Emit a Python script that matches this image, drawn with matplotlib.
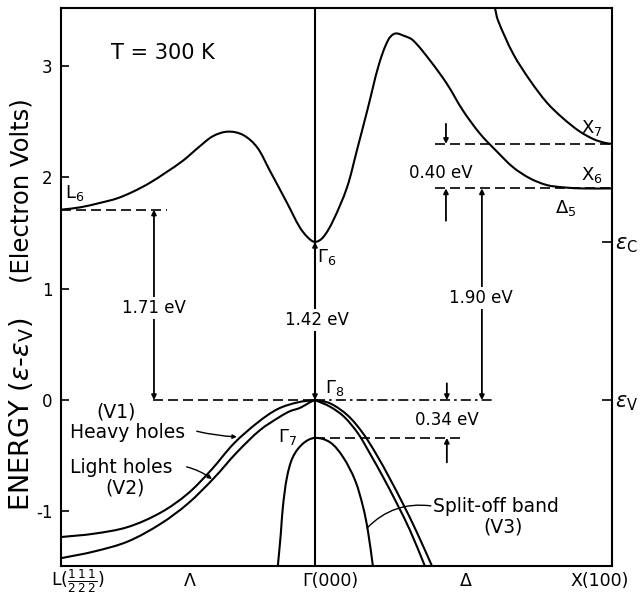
import numpy as np
import matplotlib
matplotlib.use("Agg")
import matplotlib.pyplot as plt
from matplotlib.path import Path
from matplotlib.patches import PathPatch

plt.rcParams["font.family"] = ["DejaVu Sans"]
plt.rcParams["axes.unicode_minus"] = False

# Path coordinate along L -> Γ -> X (units of 2π/a)
K_L, K_G, K_X = -0.855, 0.0, 1.0

# Band-edge energies (eV, relative to the valence-band top)
E_L6, E_G6, E_X6, E_X7, E_G7 = 1.71, 1.42, 1.90, 2.30, -0.34

# Lowest conduction band
cb_k = [-0.853, -0.791, -0.724, -0.667, -0.613, -0.556, -0.498, -0.444, -0.387,
        -0.343, -0.293, -0.242, -0.195, -0.152, -0.094, -0.051, -0.024, 0.0,
        0.027, 0.061, 0.108, 0.141, 0.178, 0.215, 0.246, 0.269, 0.300, 0.330,
        0.387, 0.444, 0.498, 0.556, 0.613, 0.667, 0.724, 0.781, 0.835, 0.900, 1.0]
cb_e = [1.71, 1.73, 1.77, 1.81, 1.87, 1.95, 2.05, 2.15, 2.28,
        2.37, 2.41, 2.38, 2.27, 2.06, 1.77, 1.55, 1.46, 1.42,
        1.46, 1.61, 1.91, 2.24, 2.62, 3.01, 3.23, 3.29, 3.27, 3.23,
        3.05, 2.84, 2.60, 2.39, 2.23, 2.09, 1.99, 1.93, 1.91, 1.90, 1.90]

# Second conduction band near X (X7)
x7_k = [0.606, 0.616, 0.667, 0.724, 0.781, 0.835, 0.892, 0.940, 0.975, 1.0]
x7_e = [3.52, 3.41, 3.11, 2.87, 2.67, 2.53, 2.41, 2.34, 2.31, 2.30]

# Heavy-hole band (V1)
hh_k = [-0.855, -0.744, -0.630, -0.519, -0.428, -0.350, -0.273, -0.192, -0.125,
        -0.057, 0.0, 0.051, 0.111, 0.162, 0.205, 0.249, 0.296, 0.340, 0.394]
hh_e = [-1.23, -1.20, -1.14, -1.01, -0.84, -0.63, -0.39, -0.20, -0.08,
        -0.02, 0.0, -0.03, -0.14, -0.30, -0.48, -0.69, -0.93, -1.17, -1.49]

# Light-hole band (V2)
lh_k = [-0.855, -0.744, -0.630, -0.519, -0.428, -0.340, -0.263, -0.185, -0.118,
        -0.084, -0.050, -0.017, 0.0, 0.051, 0.098, 0.145, 0.185, 0.229, 0.276,
        0.320, 0.370]
lh_e = [-1.42, -1.36, -1.27, -1.11, -0.93, -0.70, -0.47, -0.27, -0.15,
        -0.10, -0.07, -0.02, 0.0, -0.06, -0.15, -0.30, -0.48, -0.69, -0.93,
        -1.17, -1.49]

# Split-off band (V3)
so_k = [-0.125, -0.115, -0.108, -0.094, -0.074, -0.040, 0.0, 0.051, 0.094,
        0.135, 0.162, 0.178, 0.195]
so_e = [-1.49, -1.20, -0.96, -0.69, -0.51, -0.39, -0.34, -0.38, -0.51,
        -0.72, -0.96, -1.17, -1.49]

y_ticks = [-1, 0, 1, 2, 3]
x_label_pos = [-0.798, -0.421, 0.051, 0.508, 0.960]
x_labels = [r"L$(\frac{1}{2}\frac{1}{2}\frac{1}{2})$", "Λ", "Γ(000)", "Δ", "X(100)"]

fig = plt.figure(figsize=(6.41, 5.98), dpi=100)
ax = fig.add_axes([61 / 641, 1 - 566 / 598, 551 / 641, 558 / 598])
ax.set_xlim(K_L, K_X)
ax.set_ylim(-1.49, 3.52)

LW = 1.5
for s in ax.spines.values():
    s.set_linewidth(LW)

ax.set_yticks(y_ticks, [str(t) for t in y_ticks])
ax.tick_params(axis="y", direction="in", length=6, width=1.2, labelsize=12, pad=6)
ax.set_xticks(x_label_pos, x_labels)
ax.tick_params(axis="x", length=0, labelsize=12.5, pad=11)
for lbl in ax.get_xticklabels():
    lbl.set_va("center")

# right-hand markers for the band edges
tw = ax.twinx()
tw.set_ylim(ax.get_ylim())
tw.set_yticks([E_G6, 0.0], [r"$\epsilon_{\rm C}$", r"$\epsilon_{\rm V}$"])
tw.tick_params(axis="y", direction="in", length=7, width=1.2, labelsize=15, pad=2)
for s in tw.spines.values():
    s.set_visible(False)


def smooth_curve(k, e):
    """Smooth cubic-Bezier curve through the points, shaped in screen space."""
    to_disp = ax.transData
    pts = to_disp.transform(np.column_stack([k, e]).astype(float))
    n = len(pts)
    tang = np.empty_like(pts)
    for i in range(n):
        d = pts[min(i + 1, n - 1)] - pts[max(i - 1, 0)]
        tang[i] = d / np.hypot(*d)
    verts, codes = [pts[0]], [Path.MOVETO]
    for i in range(n - 1):
        h = np.hypot(*(pts[i + 1] - pts[i])) / 3
        verts += [pts[i] + tang[i] * h, pts[i + 1] - tang[i + 1] * h, pts[i + 1]]
        codes += [Path.CURVE4] * 3
    verts = to_disp.inverted().transform(np.array(verts))
    ax.add_patch(PathPatch(Path(verts, codes), fill=False, color="k",
                           lw=LW, capstyle="round", joinstyle="round", zorder=3))


def split_at_gamma(k, e):
    k, e = np.asarray(k), np.asarray(e)
    left, right = k <= 0, k >= 0
    return (k[left], e[left]), (k[right], e[right])


# bands
ax.axvline(K_G, color="k", lw=LW, zorder=2)
smooth_curve(cb_k, cb_e)
smooth_curve(x7_k, x7_e)
for kk, ee in (*split_at_gamma(hh_k, hh_e), *split_at_gamma(lh_k, lh_e)):
    smooth_curve(kk, ee)
smooth_curve(so_k, so_e)


# reference levels
def hline(e, k0, k1, dashes=(6, 3)):
    ln, = ax.plot([k0, k1], [e, e], color="k", lw=1.2, zorder=2)
    ln.set_dashes(dashes)


hline(E_L6, K_L, -0.498)
hline(0.0, -0.545, K_G)
hline(0.0, K_G, 0.599, dashes=(6, 2.5, 1.5, 2.5))
hline(E_G7, K_G, 0.498)
hline(E_X6, 0.404, K_X)
hline(E_X7, 0.404, K_X)


def arrow(k, e_from, e_to):
    ax.annotate("", xy=(k, e_to), xytext=(k, e_from),
                arrowprops=dict(arrowstyle="-|>", lw=1.3, color="k",
                                mutation_scale=7, shrinkA=0, shrinkB=0), zorder=4)


box = dict(facecolor="white", edgecolor="none", pad=1.5)
FS = 12
FW = 13.5

# gap L6
arrow(-0.542, 0.83, E_L6)
arrow(-0.542, 0.83, 0.0)
ax.text(-0.542, 0.83, "1.71 eV", ha="center", va="center", fontsize=FS, bbox=box, zorder=5)
# direct gap
arrow(K_G, 0.72, E_G6)
arrow(K_G, 0.72, 0.0)
ax.text(0.007, 0.72, "1.42 eV", ha="center", va="center", fontsize=FS, bbox=box, zorder=5)
# gap X6
arrow(0.562, 0.92, E_X6)
arrow(0.562, 0.92, 0.0)
ax.text(0.559, 0.92, "1.90 eV", ha="center", va="center", fontsize=FS, bbox=box, zorder=5)
# X6 - X7 splitting
arrow(0.441, 2.48, E_X7)
arrow(0.441, 1.61, E_X6)
ax.text(0.424, 2.04, "0.40 eV", ha="center", va="center", fontsize=FS)
# spin-orbit splitting
arrow(0.444, 0.15, 0.0)
arrow(0.444, -0.56, E_G7)
ax.text(0.444, -0.18, "0.34 eV", ha="center", va="center", fontsize=FS)

# point labels
ax.text(-0.512, 3.12, "T = 300 K", ha="center", va="center", fontsize=15)
ax.text(-0.842, 1.86, r"L$_6$", ha="left", va="center", fontsize=13)
ax.text(0.007, 1.28, r"Γ$_6$", ha="left", va="center", fontsize=13)
ax.text(0.034, 0.11, r"Γ$_8$", ha="left", va="center", fontsize=13)
ax.text(-0.061, -0.33, r"Γ$_7$", ha="right", va="center", fontsize=13)
ax.text(0.933, 2.44, r"X$_7$", ha="center", va="center", fontsize=13)
ax.text(0.933, 2.02, r"X$_6$", ha="center", va="center", fontsize=13)
ax.text(0.845, 1.72, r"Δ$_5$", ha="center", va="center", fontsize=13)

# band names
ax.text(-0.670, -0.11, "(V1)", ha="center", va="center", fontsize=FW)
ax.text(-0.825, -0.29, "Heavy holes", ha="left", va="center", fontsize=FW)
ax.text(-0.825, -0.61, "Light holes", ha="left", va="center", fontsize=FW)
ax.text(-0.640, -0.79, "(V2)", ha="center", va="center", fontsize=FW)
ax.text(0.397, -0.96, "Split-off band", ha="left", va="center", fontsize=FW)
ax.text(0.633, -1.14, "(V3)", ha="center", va="center", fontsize=FW)

lead = dict(arrowstyle="-|>", lw=1.0, color="k", mutation_scale=6, shrinkA=0, shrinkB=0)
ax.annotate("", xy=(-0.263, -0.33), xytext=(-0.398, -0.28),
            arrowprops=dict(lead, connectionstyle="arc3,rad=0.05"))
ax.annotate("", xy=(-0.347, -0.71), xytext=(-0.432, -0.60),
            arrowprops=dict(lead, connectionstyle="arc3,rad=-0.1"))
ax.annotate("", xy=(0.175, -1.15), xytext=(0.390, -0.95),
            arrowprops=dict(arrowstyle="-", lw=1.0, color="k", shrinkA=0, shrinkB=0,
                            connectionstyle="arc3,rad=0.25"))

# axis title in two pieces
fig.text(22 / 641, 1 - 414 / 598, r"ENERGY ($\epsilon$-$\epsilon_{\rm V}$)", rotation=90,
         ha="center", va="center", fontsize=19.5)
fig.text(22 / 641, 1 - 191 / 598, "(Electron Volts)", rotation=90,
         ha="center", va="center", fontsize=17.5)

fig.savefig("out.png", dpi=100)
